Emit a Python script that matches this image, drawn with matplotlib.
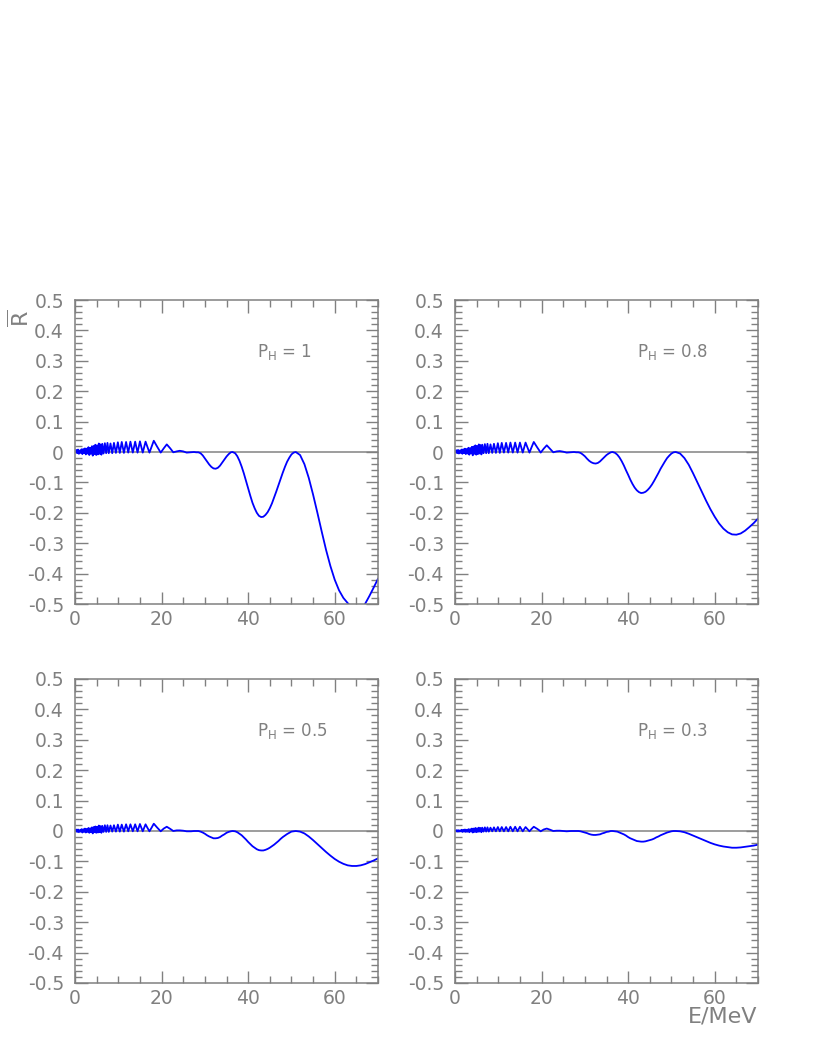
import matplotlib
matplotlib.use("Agg")
import matplotlib.pyplot as plt
from matplotlib.ticker import MultipleLocator

plt.rcParams['font.family'] = ['DejaVu Sans']
plt.rcParams['axes.unicode_minus'] = False

# ---------------- data ----------------
labels = ["1", "0.8", "0.5", "0.3"]

# dense low-energy region
E_low = [0.3, 0.5, 0.7, 0.9, 1.1, 1.3, 1.5, 1.7, 1.9, 2.1, 2.3, 2.5, 2.7, 2.9,
         3.1, 3.3, 3.5, 3.7, 3.9, 4.1, 4.3, 4.5, 4.7, 4.9, 5.1, 5.3, 5.5, 5.7,
         5.9, 6.1, 6.3, 6.6, 6.9, 7.2, 7.5, 7.8]
R_low_1 = [0.006, -0.004, 0.008, -0.006, 0.005, -0.003, 0.009, -0.007, 0.010, -0.004,
           0.012, -0.008, 0.011, -0.005, 0.016, -0.010, 0.014, -0.006, 0.019, -0.012,
           0.020, -0.007, 0.024, -0.010, 0.022, -0.008, 0.028, -0.006, 0.025, -0.009,
           0.027, -0.005, 0.029, -0.004, 0.030, -0.004]
R_low_08 = [0.005, -0.004, 0.007, -0.005, 0.005, -0.003, 0.008, -0.006, 0.009, -0.004,
            0.011, -0.007, 0.010, -0.005, 0.014, -0.009, 0.013, -0.005, 0.017, -0.011,
            0.018, -0.006, 0.022, -0.009, 0.020, -0.007, 0.025, -0.005, 0.023, -0.008,
            0.024, -0.004, 0.026, -0.004, 0.027, -0.004]
R_low_05 = [0.004, -0.003, 0.005, -0.004, 0.003, -0.002, 0.006, -0.005, 0.006, -0.003,
            0.008, -0.005, 0.007, -0.003, 0.010, -0.006, 0.009, -0.004, 0.012, -0.008,
            0.013, -0.004, 0.015, -0.006, 0.014, -0.005, 0.018, -0.004, 0.016, -0.006,
            0.017, -0.003, 0.019, -0.003, 0.019, -0.003]
R_low_03 = [0.002, -0.002, 0.003, -0.002, 0.002, -0.001, 0.004, -0.003, 0.004, -0.002,
            0.005, -0.003, 0.004, -0.002, 0.006, -0.004, 0.006, -0.002, 0.008, -0.005,
            0.008, -0.003, 0.010, -0.004, 0.009, -0.003, 0.011, -0.002, 0.010, -0.004,
            0.011, -0.002, 0.012, -0.002, 0.012, -0.002]

# resolved oscillations
E_mid = [8.2, 8.6, 9.0, 9.45, 9.9, 10.35, 10.8, 11.3, 11.8, 12.3, 12.8, 13.35,
         13.9, 14.45, 15.0, 15.65, 16.3, 16.75, 17.2, 17.7, 18.2, 19.0, 19.8, 20.5]
R_mid_1 = [0.028, -0.004, 0.030, -0.003, 0.032, -0.003, 0.033, -0.003, 0.033, -0.002,
           0.034, -0.002, 0.034, -0.002, 0.035, -0.002, 0.034, 0.016, -0.002, 0.018,
           0.037, 0.017, -0.002, 0.012]
R_mid_08 = [0.025, -0.003, 0.027, -0.003, 0.029, -0.003, 0.030, -0.002, 0.030, -0.002,
            0.031, -0.002, 0.031, -0.002, 0.031, -0.002, 0.031, 0.014, -0.002, 0.016,
            0.033, 0.015, -0.002, 0.011]
R_mid_05 = [0.018, -0.002, 0.019, -0.002, 0.021, -0.002, 0.021, -0.002, 0.022, -0.001,
            0.022, -0.001, 0.022, -0.001, 0.023, -0.001, 0.022, 0.010, -0.001, 0.011,
            0.024, 0.011, -0.001, 0.008]
R_mid_03 = [0.011, -0.001, 0.012, -0.001, 0.013, -0.001, 0.013, -0.001, 0.013, -0.001,
            0.014, -0.001, 0.014, -0.001, 0.014, -0.001, 0.013, 0.006, -0.001, 0.007,
            0.014, 0.007, -0.001, 0.005]

# smooth region, 21 - 36.4 MeV
E_a = [21.2, 22.0, 22.7, 23.5, 24.2, 25.0, 25.8, 26.8, 27.5,
       28.0, 28.5, 29.0, 29.5, 30.0, 30.5, 31.0, 31.5, 32.0, 32.5, 33.0,
       33.5, 34.0, 34.5, 35.0, 35.5, 36.0, 36.4]
R_a_1 = [0.025, 0.012, -0.001, 0.002, 0.004, 0.002, -0.002, -0.001, 0.000,
         -0.001, -0.001, -0.004, -0.011, -0.021, -0.031, -0.041, -0.049, -0.054, -0.055, -0.052,
         -0.045, -0.035, -0.025, -0.015, -0.007, -0.001, 0.000]
R_a_08 = [0.022, 0.010, -0.001, 0.002, 0.003, 0.001, -0.002, -0.001, 0.000,
          -0.001, -0.001, -0.003, -0.008, -0.014, -0.022, -0.029, -0.034, -0.037, -0.038, -0.036,
          -0.031, -0.024, -0.017, -0.010, -0.005, -0.001, 0.000]
R_a_05 = [0.014, 0.007, 0.000, 0.002, 0.002, 0.001, -0.001, -0.001, 0.000,
          0.000, 0.000, -0.002, -0.005, -0.009, -0.014, -0.018, -0.021, -0.024, -0.024, -0.023,
          -0.020, -0.015, -0.011, -0.006, -0.003, -0.001, 0.000]
R_a_03 = [0.008, 0.004, 0.000, 0.001, 0.001, 0.000, -0.001, 0.000, 0.000,
          0.000, 0.000, -0.001, -0.003, -0.005, -0.007, -0.010, -0.012, -0.013, -0.013, -0.012,
          -0.011, -0.008, -0.006, -0.003, -0.002, 0.000, 0.000]

# smooth region, 37 - 50.5 MeV
E_b = [37.0, 37.5, 38.0, 38.5, 39.0, 39.5, 40.0, 40.5, 41.0, 41.5, 42.0, 42.5, 43.0,
       43.5, 44.0, 44.5, 45.0, 45.5, 46.0, 46.5, 47.0, 47.5, 48.0, 48.5, 49.0, 49.5,
       50.0, 50.5]
R_b_1 = [-0.004, -0.014, -0.029, -0.048, -0.070, -0.095, -0.119, -0.144, -0.167, -0.185,
         -0.200, -0.210, -0.214, -0.213, -0.207, -0.198, -0.185, -0.169, -0.150, -0.130,
         -0.109, -0.088, -0.068, -0.049, -0.032, -0.019, -0.008, -0.002]
R_b_08 = [-0.003, -0.009, -0.018, -0.030, -0.044, -0.060, -0.075, -0.091, -0.105, -0.117,
          -0.126, -0.132, -0.135, -0.134, -0.131, -0.125, -0.117, -0.107, -0.095, -0.082,
          -0.069, -0.055, -0.043, -0.031, -0.020, -0.012, -0.005, -0.001]
R_b_05 = [-0.001, -0.004, -0.009, -0.014, -0.021, -0.028, -0.036, -0.043, -0.050, -0.055,
          -0.060, -0.063, -0.064, -0.064, -0.062, -0.059, -0.055, -0.050, -0.045, -0.039,
          -0.033, -0.026, -0.020, -0.015, -0.010, -0.006, -0.002, -0.001]
R_b_03 = [-0.001, -0.002, -0.005, -0.008, -0.011, -0.015, -0.020, -0.024, -0.027, -0.030,
          -0.033, -0.034, -0.035, -0.035, -0.034, -0.032, -0.030, -0.028, -0.025, -0.021,
          -0.018, -0.014, -0.011, -0.008, -0.005, -0.003, -0.001, 0.000]

# smooth region, 51 - 70 MeV
E_c = [51.0, 52.0, 53.0, 54.0, 55.0, 56.0, 57.0, 58.0, 59.0, 60.0, 61.0, 62.0,
       63.0, 64.0, 65.0, 66.0, 67.0, 68.0, 69.0, 70.0]
R_c_1 = [0.000, -0.010, -0.040, -0.085, -0.140, -0.200, -0.262, -0.322, -0.375, -0.420,
         -0.455, -0.480, -0.497, -0.512, -0.522, -0.518, -0.500, -0.474, -0.446, -0.417]
R_c_08 = [0.000, -0.005, -0.020, -0.042, -0.070, -0.100, -0.130, -0.160, -0.188, -0.213,
          -0.235, -0.252, -0.264, -0.271, -0.272, -0.268, -0.259, -0.247, -0.234, -0.219]
R_c_05 = [0.000, -0.002, -0.008, -0.018, -0.030, -0.043, -0.056, -0.069, -0.081, -0.092,
          -0.101, -0.108, -0.113, -0.115, -0.115, -0.113, -0.109, -0.103, -0.097, -0.090]
R_c_03 = [0.000, -0.001, -0.004, -0.009, -0.015, -0.021, -0.027, -0.033, -0.039, -0.044,
          -0.048, -0.051, -0.053, -0.055, -0.055, -0.054, -0.052, -0.050, -0.048, -0.045]

series = [
    (R_low_1, R_mid_1, R_a_1, R_b_1, R_c_1),
    (R_low_08, R_mid_08, R_a_08, R_b_08, R_c_08),
    (R_low_05, R_mid_05, R_a_05, R_b_05, R_c_05),
    (R_low_03, R_mid_03, R_a_03, R_b_03, R_c_03),
]

x_ticks = [0, 20, 40, 60]
y_ticks = [0.5, 0.4, 0.3, 0.2, 0.1, 0, -0.1, -0.2, -0.3, -0.4, -0.5]
y_ticklabels = ["0.5", "0.4", "0.3", "0.2", "0.1", "0", "-0.1", "-0.2", "-0.3", "-0.4", "-0.5"]

# ---------------- figure ----------------
W, H = 817, 1058
fig = plt.figure(figsize=(W / 100, H / 100), dpi=100)

gray = "#808080"
boxes = [(75, 300), (455, 300), (75, 679), (455, 679)]
aw, ah = 303, 304

E_all = E_low + E_mid + E_a + E_b + E_c

for (lx, ty), parts, lab in zip(boxes, series, labels):
    ax = fig.add_axes([lx / W, 1 - (ty + ah) / H, aw / W, ah / H])
    R = []
    for p in parts:
        R += p
    ax.axhline(0, color="#8c8c8c", lw=1.2, zorder=1)
    ax.plot(E_all, R, color="#0000ff", lw=1.3, zorder=2)
    ax.set_xlim(0, 70)
    ax.set_ylim(-0.5, 0.5)
    ax.set_xticks(x_ticks)
    ax.set_xticklabels([str(t) for t in x_ticks])
    ax.set_yticks(y_ticks)
    ax.set_yticklabels(y_ticklabels)
    ax.xaxis.set_minor_locator(MultipleLocator(5))
    ax.yaxis.set_minor_locator(MultipleLocator(0.02))
    ax.tick_params(which="both", direction="in", top=True, right=True,
                   color=gray, labelcolor=gray, labelsize=13.5)
    ax.tick_params(which="major", length=9, width=1)
    ax.tick_params(which="minor", length=5, width=1)
    ax.tick_params(axis="x", which="major", pad=4)
    ax.tick_params(axis="y", which="major", pad=8)
    for sp in ax.spines.values():
        sp.set_color(gray)
        sp.set_linewidth(1.1)
    ax.text(0.6, 0.83, r"P$_{\mathrm{H}}$ = " + lab, transform=ax.transAxes,
            color=gray, fontsize=12, ha="left", va="center")

fig.text(20 / W, 1 - 318 / H, r"$\overline{\mathrm{R}}$", color=gray, fontsize=16,
         rotation=90, ha="center", va="center")
fig.text(757 / W, 1 - 1017 / H, "E/MeV", color=gray, fontsize=16, ha="right", va="center")

fig.savefig("out.png", dpi=100, facecolor="white")
